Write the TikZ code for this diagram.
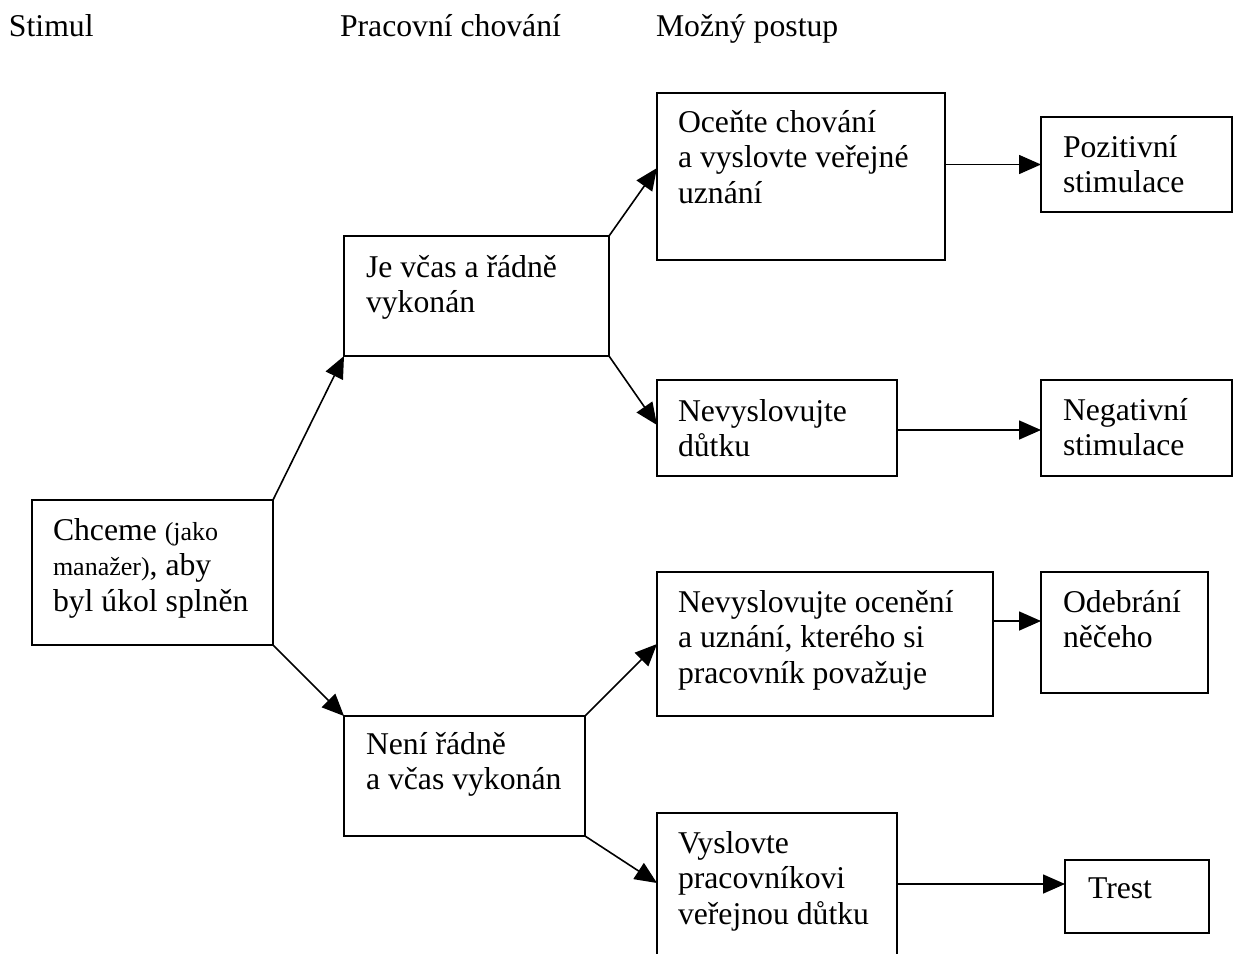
\documentclass[tikz,border=0pt]{standalone}
\usepackage{fontspec}
\setmainfont{Liberation Serif}
\usetikzlibrary{arrows.meta}

\tikzset{
  box/.style={draw, line width=1.8pt, rectangle, inner sep=0pt, outer sep=0pt, anchor=north west},
  txt/.style={inner sep=0pt, outer sep=0pt, align=left, anchor=north west,
    font=\fontsize{31.7}{35.8}\selectfont,
    execute at begin node={\rule{0pt}{23pt}}},
  head/.style={inner sep=0pt, outer sep=0pt, anchor=base west,
    font=\fontsize{31.7}{35.8}\selectfont},
  link/.style={line width=1.6pt, -{Triangle[length=22pt,width=19pt]}},
}
\newcommand{\smalltxt}[1]{{\fontsize{26}{35.8}\selectfont #1}}

\begin{document}
\begin{tikzpicture}[x=1pt,y=-1pt]
  \clip (0,0) rectangle (1239,953);
  \fill[white] (0,0) rectangle (1239,953);

  % column headings
  \node[head] (h1) at (9,36) {Stimul};
  \node[head] (h2) at (340,36) {Pracovní chování};
  \node[head] (h3) at (656,36) {Možný postup};

  % boxes
  \node[box, minimum width=241pt, minimum height=145pt] (ch)  at (32,500)   {};
  \node[box, minimum width=265pt, minimum height=120pt] (je)  at (344,236)  {};
  \node[box, minimum width=241pt, minimum height=120pt] (ne)  at (344,716)  {};
  \node[box, minimum width=288pt, minimum height=167pt] (oc)  at (657,93)   {};
  \node[box, minimum width=240pt, minimum height=96pt]  (nd)  at (657,380)  {};
  \node[box, minimum width=336pt, minimum height=144pt] (no)  at (657,572)  {};
  \node[box, minimum width=240pt, minimum height=300pt] (vy)  at (657,813)  {};
  \node[box, minimum width=191pt, minimum height=95pt]  (poz) at (1041,117) {};
  \node[box, minimum width=191pt, minimum height=96pt]  (neg) at (1041,380) {};
  \node[box, minimum width=167pt, minimum height=121pt] (od)  at (1041,572) {};
  \node[box, minimum width=144pt, minimum height=73pt]  (tr)  at (1065,860) {};

  % box texts
  \node[txt] (ch-t)  at ([xshift=21pt,yshift=-18pt]ch.north west)
    {Chceme \smalltxt{(jako}\\\smalltxt{manažer)}, aby\\byl úkol splněn};
  \node[txt] (je-t)  at ([xshift=22pt,yshift=-19pt]je.north west) {Je včas a řádně\\vykonán};
  \node[txt] (ne-t)  at ([xshift=22pt,yshift=-16pt]ne.north west) {Není řádně\\a včas vykonán};
  \node[txt] (oc-t)  at ([xshift=21pt,yshift=-17pt]oc.north west) {Oceňte chování\\a vyslovte veřejné\\uznání};
  \node[txt] (nd-t)  at ([xshift=21pt,yshift=-19pt]nd.north west) {Nevyslovujte\\důtku};
  \node[txt] (no-t)  at ([xshift=21pt,yshift=-18pt]no.north west) {Nevyslovujte ocenění\\a uznání, kterého si\\pracovník považuje};
  \node[txt] (vy-t)  at ([xshift=21pt,yshift=-18pt]vy.north west) {Vyslovte\\pracovníkovi\\veřejnou důtku};
  \node[txt] (poz-t) at ([xshift=22pt,yshift=-18pt]poz.north west) {Pozitivní\\stimulace};
  \node[txt] (neg-t) at ([xshift=22pt,yshift=-18pt]neg.north west) {Negativní\\stimulace};
  \node[txt] (od-t)  at ([xshift=22pt,yshift=-18pt]od.north west) {Odebrání\\něčeho};
  \node[txt] (tr-t)  at ([xshift=23pt,yshift=-15pt]tr.north west) {Trest};

  % entry points of the connectors
  \coordinate (oc-in)  at ([yshift=8.5pt]oc.west);
  \coordinate (nd-in)  at ([yshift=3pt]nd.west);
  \coordinate (vy-in)  at ([yshift=-70pt]vy.north west);
  \coordinate (neg-in) at ([yshift=-2pt]neg.west);
  \coordinate (od-in)  at ([yshift=11.5pt]od.west);
  \coordinate (tr-in)  at ([yshift=12.5pt]tr.west);

  % branches from the stimulus
  \draw[link] (ch.north east) -- (je.south west);
  \draw[link] (ch.south east) -- (ne.north west);

  % branches to the possible actions
  \draw[link] (je.north east) -- (oc-in);
  \draw[link] (je.south east) -- (nd-in);
  \draw[link] (ne.north east) -- (no.west);
  \draw[link] (ne.south east) -- (vy-in);

  % outcomes
  \draw[link] (oc.east |- poz.west) -- (poz.west);
  \draw[link] (nd.east |- neg-in) -- (neg-in);
  \draw[link] (no.east |- od-in) -- (od-in);
  \draw[link] (vy.east |- tr-in) -- (tr-in);
\end{tikzpicture}
\end{document}
